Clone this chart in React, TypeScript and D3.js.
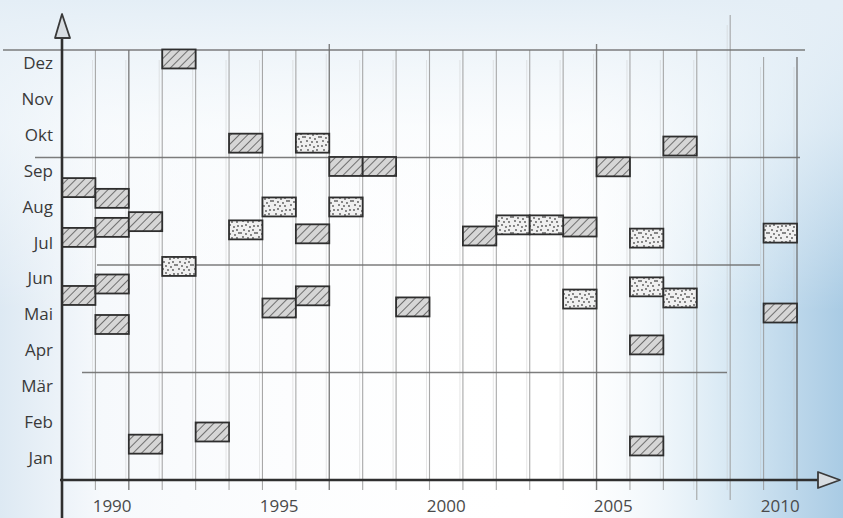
import React from "react";
import * as d3 from "d3";

// ---- data ----
const monthLabels = ["Jan", "Feb", "Mär", "Apr", "Mai", "Jun", "Jul", "Aug", "Sep", "Okt", "Nov", "Dez"];
const yearLabels = [1990, 1995, 2000, 2005, 2010];

// hatched boxes: year + position in months (0 = 1 Jan, 12 = 31 Dec)
const hatchedYears = [1989, 1989, 1989, 1990, 1990, 1990, 1990, 1991, 1991, 1992, 1993, 1994, 1995, 1996, 1996, 1997, 1998, 1999, 2001, 2004, 2005, 2006, 2006, 2007, 2010];
const hatchedValues = [8.16, 6.77, 5.15, 7.86, 7.05, 5.47, 4.34, 7.21, 1.0, 11.75, 1.34, 9.4, 4.8, 6.87, 5.14, 8.75, 8.75, 4.83, 6.81, 7.06, 8.74, 3.77, 0.95, 9.32, 4.66];

// dotted boxes
const dottedYears = [1992, 1994, 1995, 1996, 1997, 2002, 2003, 2004, 2006, 2006, 2007, 2010];
const dottedValues = [5.96, 6.98, 7.62, 9.4, 7.62, 7.12, 7.12, 5.05, 6.75, 5.39, 5.08, 6.89];

const W = 843;
const H = 518;

export default function App() {
  const x = d3.scaleLinear().domain([1989, 2011]).range([62, 797]);
  const y = d3.scaleLinear().domain([0, 12]).range([480, 50]);
  const half = 0.265;

  const boundaries = d3.range(1990, 2012);
  const quarterLines = [
    { v: 12, x0: 3, x1: 805 },
    { v: 9, x0: 35, x1: 800 },
    { v: 6, x0: 97, x1: 760 },
    { v: 3, x0: 82, x1: 727 },
  ];

  const box = (yr: number, v: number, kind: string, i: number) => {
    const x0 = x(yr);
    const w = x(yr + 1) - x0;
    const top = y(v + half);
    const h = y(v - half) - top;
    return (
      <g key={kind + i}>
        <rect x={x0} y={top} width={w} height={h} fill={kind === "h" ? "url(#hatch)" : "url(#dots)"} />
        <rect x={x0} y={top} width={w} height={h} fill="none" stroke="#2e2e2e" strokeWidth={1.8} />
      </g>
    );
  };

  // pseudo-specks for dotted pattern (fixed positions in pattern space)
  const specks = [
    [2, 2], [6, 1], [10, 3], [14, 2], [4, 6], [9, 7], [13, 6], [1, 9], [6, 10], [11, 11], [15, 9], [3, 13], [8, 14], [13, 14],
  ];

  return (
    <svg width={W} height={H} style={{ display: "block", position: "absolute", left: 0, top: 0 }} fontFamily="'Open Sans', 'DejaVu Sans', sans-serif">
      <defs>
        <linearGradient id="bgR" x1="0" y1="0" x2="1" y2="0">
          <stop offset="0" stopColor="#dde9f3" />
          <stop offset="0.12" stopColor="#f6f9fc" />
          <stop offset="0.65" stopColor="#ffffff" stopOpacity="0" />
          <stop offset="0.85" stopColor="#dcebf5" />
          <stop offset="1" stopColor="#a9cbe4" />
        </linearGradient>
        <linearGradient id="bgT" x1="0" y1="0" x2="0" y2="1">
          <stop offset="0" stopColor="#e4eef6" />
          <stop offset="0.25" stopColor="#f8fbfd" stopOpacity="0.6" />
          <stop offset="0.6" stopColor="#ffffff" stopOpacity="0" />
        </linearGradient>
        <pattern id="hatch" width="6" height="6" patternUnits="userSpaceOnUse" patternTransform="rotate(45)">
          <rect width="6" height="6" fill="#d6d6d6" />
          <line x1="0" y1="0" x2="0" y2="6" stroke="#555" strokeWidth="1.6" />
        </pattern>
        <pattern id="dots" width="16" height="16" patternUnits="userSpaceOnUse">
          <rect width="16" height="16" fill="#f0f0f0" />
          {specks.map((p, i) => (
            <circle key={i} cx={p[0]} cy={p[1]} r={0.9} fill="#555" />
          ))}
        </pattern>
      </defs>

      <rect width={W} height={H} fill="#ffffff" />
      <rect width={W} height={H} fill="url(#bgR)" />
      <rect width={W} height={H} fill="url(#bgT)" />

      {/* vertical grid lines */}
      {boundaries.map((b) => {
        const strong = b === 1997 || b === 2005 || b === 2011 || b === 1991;
        let y0 = 50;
        let y1 = 490;
        if (b === 1997 || b === 2005) y0 = 44;
        if (b === 2009) { y0 = 15; y1 = 500; }
        if (b === 2008) y1 = 500;
        if (b === 2010 || b === 2011) y0 = 57;
        return (
          <g key={b}>
            <line x1={x(b)} x2={x(b)} y1={y0} y2={y1} stroke={strong ? "#6c6c6c" : "#9a9a9a"} strokeWidth={strong ? 1.4 : 1.1} opacity={0.85} />
            <line x1={x(b) - 3} x2={x(b) - 3} y1={y0 + 10} y2={y1 - 10} stroke="#c4c4c4" strokeWidth={0.8} opacity={0.5} />
          </g>
        );
      })}

      {/* horizontal quarter lines */}
      {quarterLines.map((q) => (
        <line key={q.v} x1={q.x0} x2={q.x1} y1={y(q.v)} y2={y(q.v)} stroke="#6f6f6f" strokeWidth={1.4} opacity={0.9} />
      ))}

      {/* boxes */}
      {hatchedYears.map((yr, i) => box(yr, hatchedValues[i], "h", i))}
      {dottedYears.map((yr, i) => box(yr, dottedValues[i], "d", i))}

      {/* axes */}
      <line x1={62} x2={62} y1={518} y2={22} stroke="#2f2f2f" strokeWidth={2.6} />
      <line x1={60} x2={832} y1={480} y2={480} stroke="#2f2f2f" strokeWidth={2.6} />
      <path d="M62,14 L55,38 L70,38 Z" fill="#d8dde2" stroke="#3a3a3a" strokeWidth={1.8} strokeLinejoin="round" />
      <path d="M840,480 L818,472 L818,488 Z" fill="#d8dde2" stroke="#3a3a3a" strokeWidth={1.8} strokeLinejoin="round" />

      {/* month labels */}
      {monthLabels.map((m, i) => (
        <text key={m} x={53} y={y(i + 0.5) - 3} textAnchor="end" dominantBaseline="middle" fontSize={17} fill="#3a3a3a">
          {m}
        </text>
      ))}

      {/* year labels */}
      {yearLabels.map((yr) => (
        <text key={yr} x={x(yr + 0.5)} y={507} textAnchor="middle" dominantBaseline="middle" fontSize={17} fill="#4a4a4a">
          {yr}
        </text>
      ))}
    </svg>
  );
}
